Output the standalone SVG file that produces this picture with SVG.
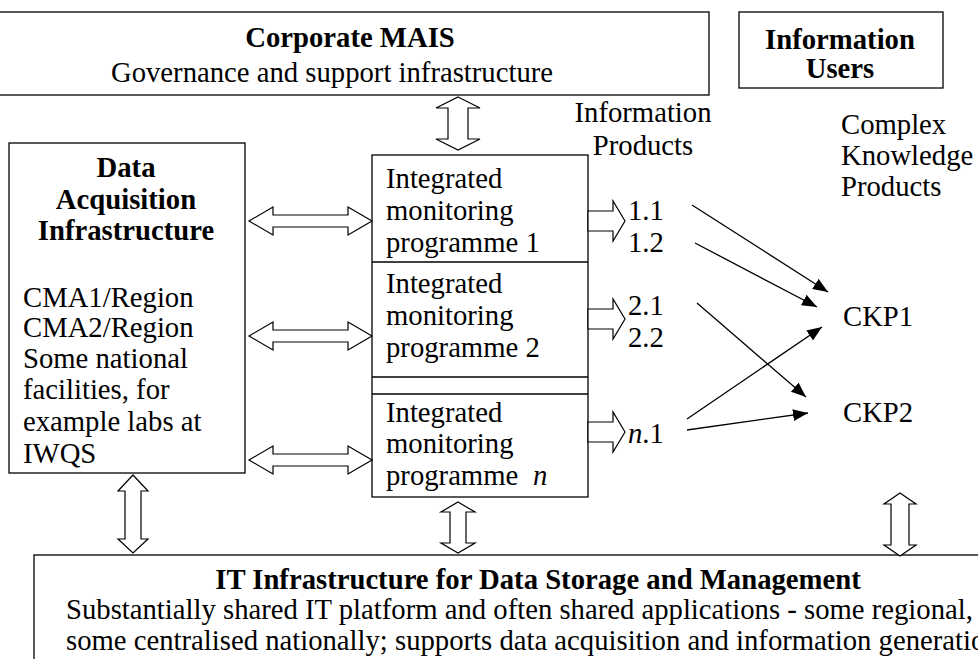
<svg xmlns="http://www.w3.org/2000/svg" width="978" height="659" viewBox="0 0 978 659">
<style>
text{font-family:"Liberation Serif","Times New Roman",serif;font-size:28.7px;fill:#000}
.b{font-weight:bold}
.m{text-anchor:middle}
.box{fill:#fff;stroke:#000;stroke-width:1.3}
.blk{fill:#fff;stroke:#000;stroke-width:1.2;stroke-linejoin:miter}
.ln{fill:none;stroke:#000;stroke-width:1.3}
</style>
<defs>
<marker id="ah" markerUnits="userSpaceOnUse" markerWidth="16" markerHeight="12" refX="15" refY="6" orient="auto">
<path d="M0,0 L15,6 L0,12 Z" fill="#000"/>
</marker>
</defs>
<rect width="978" height="659" fill="#fff"/>

<g id="corporate-mais">
<rect class="box" x="-2" y="12" width="711" height="83"/>
<text class="b m" x="350" y="47">Corporate MAIS</text>
<text class="m" x="332" y="82">Governance and support infrastructure</text>
</g>

<g id="information-users">
<rect class="box" x="739" y="12" width="204" height="76"/>
<text class="b m" x="840" y="49">Information</text>
<text class="b m" x="840" y="78">Users</text>
</g>

<g id="data-acquisition">
<rect class="box" x="9" y="143" width="236" height="330"/>
<text class="b m" x="126" y="177">Data</text>
<text class="b m" x="126" y="209">Acquisition</text>
<text class="b m" x="126" y="240">Infrastructure</text>
<text x="23" y="307">CMA1/Region</text>
<text x="23" y="337">CMA2/Region</text>
<text x="23" y="368">Some national</text>
<text x="23" y="399">facilities, for</text>
<text x="23" y="431">example labs at</text>
<text x="23" y="463">IWQS</text>
</g>

<g id="monitoring-programmes">
<rect class="box" x="372" y="155" width="216" height="342"/>
<line class="ln" x1="372" y1="262" x2="588" y2="262"/>
<line class="ln" x1="372" y1="377" x2="588" y2="377"/>
<line class="ln" x1="372" y1="394" x2="588" y2="394"/>
<text x="386" y="188">Integrated</text>
<text x="386" y="220">monitoring</text>
<text x="386" y="252">programme 1</text>
<text x="386" y="293">Integrated</text>
<text x="386" y="325">monitoring</text>
<text x="386" y="357">programme 2</text>
<text x="386" y="422">Integrated</text>
<text x="386" y="453">monitoring</text>
<text x="386" y="485">programme <tspan x="533" font-style="italic">n</tspan></text>
</g>

<g id="information-products">
<text class="m" x="643" y="122">Information</text>
<text class="m" x="643" y="155">Products</text>
<text x="628" y="220">1.1</text>
<text x="628" y="252">1.2</text>
<text x="628" y="315">2.1</text>
<text x="628" y="347">2.2</text>
<text x="628" y="443"><tspan font-style="italic">n</tspan>.1</text>
</g>

<g id="complex-knowledge-products">
<text x="841" y="134">Complex</text>
<text x="841" y="165">Knowledge</text>
<text x="841" y="196">Products</text>
<text x="843" y="326">CKP1</text>
<text x="843" y="422">CKP2</text>
</g>

<g id="it-infrastructure">
<rect class="box" x="34" y="555" width="980" height="120"/>
<text class="b m" x="538" y="589">IT Infrastructure for Data Storage and Management</text>
<text x="66" y="619">Substantially shared IT platform and often shared applications - some regional,</text>
<text x="66" y="650">some centralised nationally; supports data acquisition and information generation</text>
</g>

<g id="connectors">
<polygon class="blk" points="458,97 480,108 468,108 468,139 480,139 458,150 436,139 448,139 448,108 436,108"/>
<polygon class="blk" points="249,221 273,207 273,215 348,215 348,207 372,221 348,235 348,227 273,227 273,235"/>
<polygon class="blk" points="249,336 273,322 273,330 348,330 348,322 372,336 348,350 348,342 273,342 273,350"/>
<polygon class="blk" points="249,460 273,446 273,454 348,454 348,446 372,460 348,474 348,466 273,466 273,474"/>
<polygon class="blk" points="588,211 613,211 613,201 625,221 613,241 613,231 588,231"/>
<polygon class="blk" points="588,309 613,309 613,299 625,319 613,339 613,329 588,329"/>
<polygon class="blk" points="588,422 613,422 613,412 625,432 613,452 613,442 588,442"/>
<polygon class="blk" points="133,475 148,491 141,491 141,539 148,539 133,553 118,539 125,539 125,491 118,491"/>
<polygon class="blk" points="458,502 475,512 466,512 466,543 475,543 458,553 441,543 450,543 450,512 441,512"/>
<polygon class="blk" points="900,493 916,504 909,504 909,545 916,545 900,556 884,545 891,545 891,504 884,504"/>
<line class="ln" x1="692" y1="205" x2="828" y2="292" marker-end="url(#ah)"/>
<line class="ln" x1="695" y1="243" x2="817" y2="307" marker-end="url(#ah)"/>
<line class="ln" x1="697" y1="303" x2="806" y2="397" marker-end="url(#ah)"/>
<line class="ln" x1="687" y1="419" x2="822" y2="327" marker-end="url(#ah)"/>
<line class="ln" x1="687" y1="430" x2="808" y2="413" marker-end="url(#ah)"/>
</g>
</svg>
